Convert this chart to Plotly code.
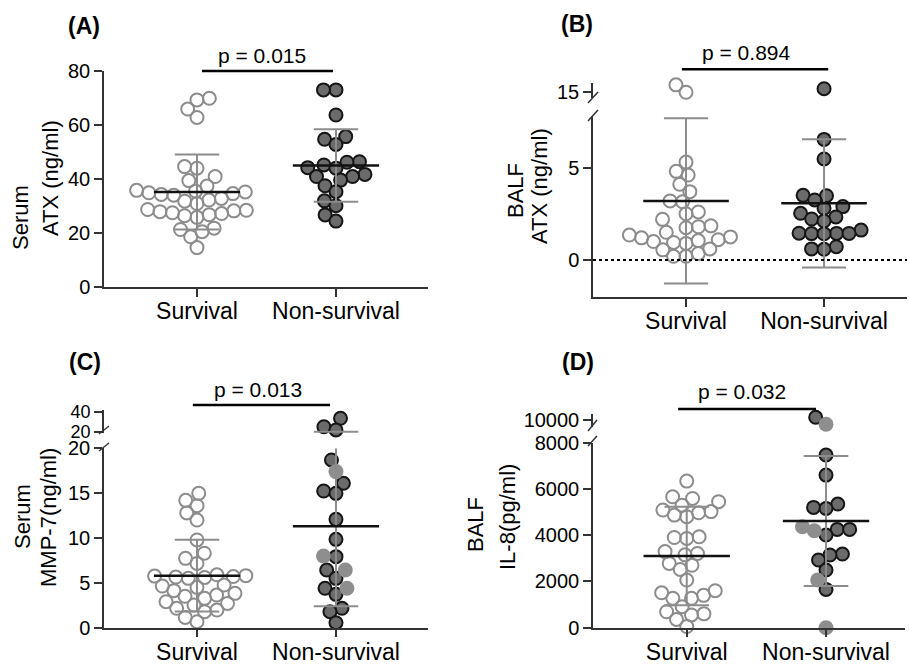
import math
import plotly.graph_objects as go

# ---------------- data ----------------
groups = ["Survival", "Non-survival"]

A_surv = [69.9, 69.3, 65.9, 62.8, 44.6, 44.0, 40.9, 39.4, 37.4, 35.8, 35.5, 35.2, 34.9, 34.6,
          34.3, 34.0, 32.8, 32.2, 31.8, 30.9, 28.7, 28.4, 28.2, 27.9, 27.5, 27.2, 26.8, 26.4,
          25.8, 21.8, 21.3, 20.5, 18.6, 14.6]
A_non = [73.0, 73.0, 63.7, 55.7, 54.7, 52.8, 46.4, 46.2, 45.2, 44.2, 44.0, 41.7, 40.9, 40.9,
         39.6, 37.5, 35.3, 31.9, 30.1, 26.7, 24.4]
A_non_light = []

B_surv = [15.36, 14.96, 7.9, 5.3, 4.8, 4.6, 4.1, 3.7, 3.2, 3.15, 2.6, 2.5, 2.2, 1.85, 1.8, 1.75,
          1.5, 1.35, 1.25, 1.2, 1.1, 1.05, 1.0, 0.95, 0.9, 0.6, 0.55, 0.35, 0.2, 0.2]
B_non = [15.15, 6.53, 5.47, 3.5, 3.48, 3.25, 2.89, 2.8, 2.53, 2.33, 2.22, 2.11, 1.62, 1.45,
         1.44, 1.44, 1.43, 1.42, 0.72, 0.6, 0.58]
B_non_light = []

C_surv = [14.98, 14.2, 13.6, 12.8, 12.0, 9.78, 8.3, 7.73, 7.17, 5.9, 5.8, 5.75, 5.7, 5.65, 5.6,
          5.5, 4.76, 4.65, 4.5, 4.13, 3.83, 3.64, 3.5, 3.27, 2.9, 2.71, 2.53, 2.16, 1.97, 1.78,
          1.15, 0.67]
C_non = [33.5, 25.2, 22.0, 18.7, 16.1, 15.24, 14.98, 12.08, 9.85, 7.92, 6.43, 5.5, 4.39, 3.72,
         2.16, 1.78, 0.56]
C_non_light = [17.4, 7.99, 6.43, 4.39]

D_surv = [6340, 5660, 5590, 5450, 5300, 5090, 5020, 4970, 4870, 4800, 3930, 3900, 3860, 3290,
          3210, 3150, 2780, 2700, 2520, 2060, 1600, 1510, 1400, 1270, 1270, 910, 690, 600, 550,
          360, 50]
D_non = [10117, 7465, 6600, 5346, 5202, 5159, 4251, 4251, 4006, 3185, 3141, 2925, 2493, 1657]
D_non_light = [9814, 4366, 4193, 2060, 0]

mean_surv = [35.2, 3.2, 5.8, 3100]
sd_surv = [13.9, 4.47, 4.0, 2130]
mean_non = [45.0, 3.07, 11.3, 4610]
sd_non = [13.4, 3.47, 8.9, 2810]

p_values = ["p = 0.015", "p = 0.894", "p = 0.013", "p = 0.032"]
panel_tags = ["(A)", "(B)", "(C)", "(D)"]
title_line1 = ["Serum", "BALF", "Serum", "BALF"]
title_line2 = ["ATX (ng/ml)", "ATX (ng/ml)", "MMP-7(ng/ml)", "IL-8(pg/ml)"]

low_ticks = [[0, 20, 40, 60, 80], [0, 5], [0, 5, 10, 15, 20], [0, 2000, 4000, 6000, 8000]]
up_ticks = [None, [15], [20, 40], [10000]]

# ---------------- layout geometry (pixels) ----------------
W, H = 909, 664
FONT = "Liberation Sans"
AXC = "#333333"
GRAY = "#8c8c8c"

panels = [
    dict(xpx=(104, 428), xr=(-0.669, 1.662), low_px=(71, 287), low_r=(0, 80), up_px=None, up_r=None,
         surv=A_surv, non=A_non, light=A_non_light, upfont=20),
    dict(xpx=(593, 907), xr=(-0.674, 1.601), low_px=(116, 297), low_r=(-2.003, 7.796),
         up_px=(83, 98), up_r=(14.648, 15.46), surv=B_surv, non=B_non, light=B_non_light, upfont=20),
    dict(xpx=(104, 428), xr=(-0.669, 1.662), low_px=(448.3, 627.7), low_r=(0, 20),
         up_px=(410, 433), up_r=(19.0, 41.7), surv=C_surv, non=C_non, light=C_non_light, upfont=18),
    dict(xpx=(593, 905), xr=(-0.673, 1.567), low_px=(442.7, 627.7), low_r=(0, 8000),
         up_px=(414, 427), up_r=(9697, 10259), surv=D_surv, non=D_non, light=D_non_light, upfont=20),
]
ylow_idx = [1, 2, 4, 6]
yup_idx = [None, 3, 5, 7]


def nm(prefix, i):
    return prefix if i == 1 else f"{prefix}{i}"


def xdom(a, b):
    return [a / W, b / W]


def ydom(top, bottom):
    return [1 - bottom / H, 1 - top / H]


def make_ypix(p):
    def f(v):
        if p["up_px"] is not None and v > p["low_r"][1]:
            t, b = p["up_px"]
            r0, r1 = p["up_r"]
        else:
            t, b = p["low_px"]
            r0, r1 = p["low_r"]
        return b - (v - r0) / (r1 - r0) * (b - t)
    return f


def swarm(vals, ypix, d, ppu):
    n = len(vals)
    ys = [ypix(v) for v in vals]
    order = sorted(range(n), key=lambda i: ys[i], reverse=True)
    placed = []
    off = [0.0] * n
    for i in order:
        y = ys[i]
        cands = [0.0]
        for xj, yj in placed:
            dy = abs(y - yj)
            if dy < d:
                dx = math.sqrt(d * d - dy * dy)
                cands += [xj + dx, xj - dx]
        cands.sort(key=lambda c: (round(abs(c), 6), c))
        chosen = 0.0
        for c in cands:
            if all((c - xj) ** 2 + (y - yj) ** 2 >= d * d - 1e-6 for xj, yj in placed):
                chosen = c
                break
        placed.append((chosen, y))
        off[i] = chosen / ppu
    return off


fig = go.Figure()
layout = dict(width=W, height=H, margin=dict(l=0, r=0, t=0, b=0, autoexpand=False), showlegend=False,
              plot_bgcolor="white", paper_bgcolor="white", font=dict(family=FONT, color="black"))
shapes = []
annotations = []

surv_marker = dict(size=13, color="rgba(255,255,255,0)", line=dict(color=GRAY, width=2))
dark_marker = dict(size=13, color="#6b6b6b", line=dict(color="#151515", width=2))
light_marker = dict(size=15, color="#8e8e8e", line=dict(color="#8e8e8e", width=0))

for k, p in enumerate(panels):
    xi = k + 1
    xn = nm("x", xi)
    yl = nm("y", ylow_idx[k])
    yu = nm("y", yup_idx[k]) if yup_idx[k] else None
    ypix = make_ypix(p)
    ppu = (p["xpx"][1] - p["xpx"][0]) / (p["xr"][1] - p["xr"][0])

    # axes
    layout[nm("xaxis", xi)] = dict(domain=xdom(*p["xpx"]), range=list(p["xr"]), anchor=yl,
                                   showline=True, linecolor=AXC, linewidth=1.5, ticks="outside",
                                   ticklen=8, tickwidth=1.5, tickcolor=AXC, tickvals=[0, 1],
                                   ticktext=groups, tickfont=dict(size=23, family=FONT),
                                   ticklabelstandoff=-5,
                                   showgrid=False, zeroline=False, fixedrange=True, automargin=False)
    layout[nm("yaxis", ylow_idx[k])] = dict(domain=ydom(*p["low_px"]), range=list(p["low_r"]),
                                            anchor=xn, showline=True, linecolor=AXC, linewidth=1.5,
                                            ticks="outside", ticklen=8, tickwidth=1.5, tickcolor=AXC,
                                            tickvals=low_ticks[k], ticktext=[str(v) for v in low_ticks[k]],
                                            tickfont=dict(size=20, family=FONT), showgrid=False,
                                            zeroline=False, fixedrange=True, automargin=False)
    if yu:
        layout[nm("yaxis", yup_idx[k])] = dict(domain=ydom(*p["up_px"]), range=list(p["up_r"]),
                                               anchor=xn, showline=True, linecolor=AXC, linewidth=1.5,
                                               ticks="outside", ticklen=8, tickwidth=1.5, tickcolor=AXC,
                                               tickvals=up_ticks[k], ticktext=[str(v) for v in up_ticks[k]],
                                               tickfont=dict(size=p["upfont"], family=FONT), showgrid=False,
                                               zeroline=False, fixedrange=True, automargin=False)

    # points
    s_off = swarm(p["surv"], ypix, 12.5, ppu)
    allnon = p["non"] + p["light"]
    n_off = swarm(allnon, ypix, 12.5, ppu)
    nd = len(p["non"])
    sets = [
        (p["surv"], [0 + o for o in s_off], surv_marker),
        (p["non"], [1 + o for o in n_off[:nd]], dark_marker),
        (p["light"], [1 + o for o in n_off[nd:]], light_marker),
    ]
    for vals, xs, mk in sets:
        lo_x = [x for x, v in zip(xs, vals) if not (yu and v > p["low_r"][1])]
        lo_y = [v for v in vals if not (yu and v > p["low_r"][1])]
        hi_x = [x for x, v in zip(xs, vals) if yu and v > p["low_r"][1]]
        hi_y = [v for v in vals if yu and v > p["low_r"][1]]
        if lo_y:
            fig.add_trace(go.Scatter(x=lo_x, y=lo_y, mode="markers", marker=mk, xaxis=xn, yaxis=yl,
                                     cliponaxis=False, hoverinfo="skip"))
        if hi_y:
            fig.add_trace(go.Scatter(x=hi_x, y=hi_y, mode="markers", marker=mk, xaxis=xn, yaxis=yu,
                                     cliponaxis=False, hoverinfo="skip"))

    # mean and SD
    for gi, (m, sd) in enumerate([(mean_surv[k], sd_surv[k]), (mean_non[k], sd_non[k])]):
        top = m + sd
        bot = m - sd
        vtop = min(top, p["low_r"][1])
        fig.add_trace(go.Scatter(x=[gi, gi], y=[bot, vtop], mode="lines", xaxis=xn, yaxis=yl,
                                 line=dict(color=GRAY, width=2), cliponaxis=False, hoverinfo="skip"))
        fig.add_trace(go.Scatter(x=[gi - 0.16, gi + 0.16], y=[bot, bot], mode="lines", xaxis=xn,
                                 yaxis=yl, line=dict(color=GRAY, width=2), cliponaxis=False,
                                 hoverinfo="skip"))
        cap_axis = yu if (yu and top > p["low_r"][1]) else yl
        fig.add_trace(go.Scatter(x=[gi - 0.16, gi + 0.16], y=[top, top], mode="lines", xaxis=xn,
                                 yaxis=cap_axis, line=dict(color=GRAY, width=2), cliponaxis=False,
                                 hoverinfo="skip"))
        fig.add_trace(go.Scatter(x=[gi - 0.31, gi + 0.31], y=[m, m], mode="lines", xaxis=xn, yaxis=yl,
                                 line=dict(color="#111111", width=2.5), cliponaxis=False,
                                 hoverinfo="skip"))

# dotted zero line in panel B
shapes.append(dict(type="line", xref="x2", yref="y2", x0=panels[1]["xr"][0], x1=panels[1]["xr"][1],
                   y0=0, y1=0, line=dict(color="black", width=2, dash="dot")))

# significance bars (pixel y) and p-value texts
sig = [  # x0, x1 in data units, bar y px, text x px, text y px
    ("x", 0.036, 0.978, 71, 262, 55),
    ("x2", -0.03, 1.03, 69.3, 746, 53),
    ("x3", -0.03, 0.957, 405, 258, 389),
    ("x4", -0.062, 0.928, 409, 742, 391),
]
for k, (xr, a, b, ypx, tx, ty) in enumerate(sig):
    shapes.append(dict(type="line", xref=xr, yref="paper", x0=a, x1=b, y0=1 - ypx / H, y1=1 - ypx / H,
                       line=dict(color="black", width=2.5)))
    annotations.append(dict(x=tx / W, y=1 - ty / H, xref="paper", yref="paper", text=p_values[k],
                            showarrow=False, font=dict(size=21, family=FONT), xanchor="center",
                            yanchor="middle"))

# panel tags
tag_pos = [(84, 26), (577, 24), (85, 362), (578, 362)]
for k, (tx, ty) in enumerate(tag_pos):
    annotations.append(dict(x=tx / W, y=1 - ty / H, xref="paper", yref="paper",
                            text="<b>" + panel_tags[k] + "</b>", showarrow=False,
                            font=dict(size=23, family=FONT), xanchor="center", yanchor="middle"))

# y titles (two lines each)
t1_pos = [(21, 218), (515, 191), (22, 517), (475, 524)]
t2_pos = [(50, 178), (540, 186), (48, 518), (507, 517)]
for k in range(4):
    for txt, (tx, ty) in [(title_line1[k], t1_pos[k]), (title_line2[k], t2_pos[k])]:
        annotations.append(dict(x=tx / W, y=1 - ty / H, xref="paper", yref="paper", text=txt,
                                showarrow=False, textangle=-90, font=dict(size=22, family=FONT),
                                xanchor="center", yanchor="middle"))

# axis break marks (pixel coordinates)
breaks = [
    (588, 103, 598, 92), (588, 121, 598, 110),
    (99, 434, 109, 426), (99, 451, 109, 443),
    (588, 431, 597, 420), (588, 446, 597, 436),
]
for x0, y0, x1, y1 in breaks:
    shapes.append(dict(type="line", xref="paper", yref="paper", x0=x0 / W, y0=1 - y0 / H,
                       x1=x1 / W, y1=1 - y1 / H, line=dict(color=AXC, width=1.5)))

layout["shapes"] = shapes
layout["annotations"] = annotations
fig.update_layout(**layout)
fig.write_html("out.html", config={"displayModeBar": False})

# remove default page margins so the figure fills the window exactly
with open("out.html", "r", encoding="utf-8") as fh:
    html = fh.read()
html = html.replace("<head>", "<head><style>html,body{margin:0;padding:0;overflow:hidden;}</style>", 1)
with open("out.html", "w", encoding="utf-8") as fh:
    fh.write(html)
